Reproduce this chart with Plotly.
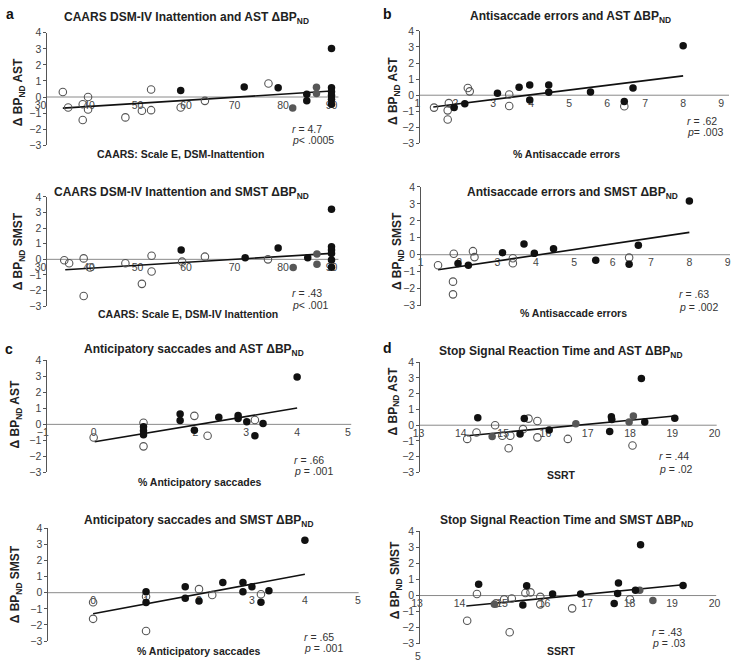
import plotly.graph_objects as go

# ---------------- data ----------------
# Panel a (top): CAARS DSM-IV Inattention vs AST dBPnd
a_ast_open_x = [34.6, 35.7, 38.7, 39.8, 38.7, 39.8, 47.5, 50.9, 52.8, 52.8, 58.9, 63.9, 77.0]
a_ast_open_y = [0.31, -0.65, -0.45, 0.0, -1.43, -0.78, -1.27, -0.86, -0.82, 0.47, -0.65, -0.24, 0.84]
a_ast_black_x = [58.9, 72.0, 79.0, 84.9, 84.9, 90, 90, 90, 90, 90, 90]
a_ast_black_y = [0.41, 0.63, 0.57, 0.17, -0.24, 3.02, 0.57, 0.33, 0.1, -0.14, -0.45]
a_ast_gray_x = [82.0, 86.9, 86.9]
a_ast_gray_y = [-0.69, 0.61, 0.22]
a_ast_fit_x = [34.6, 90]
a_ast_fit_y = [-0.69, 0.37]

# Panel a (bottom): CAARS vs SMST
a_smst_open_x = [34.9, 35.9, 38.9, 38.9, 40.2, 47.5, 50.9, 52.9, 52.9, 59.2, 63.9, 76.9]
a_smst_open_y = [-0.06, -0.25, 0.06, -2.35, -0.52, -0.25, -1.57, 0.23, -0.78, -0.15, 0.17, 0.0]
a_smst_black_x = [59.0, 72.2, 79.0, 85.1, 90, 90, 90, 90, 90, 90]
a_smst_black_y = [0.59, 0.10, 0.73, 0.10, 3.21, 0.8, 0.59, 0.38, -0.04, -0.5]
a_smst_gray_x = [82.1, 87.0, 87.0]
a_smst_gray_y = [-0.52, 0.34, -0.31]
a_smst_fit_x = [35.1, 90]
a_smst_fit_y = [-0.67, 0.38]

# Panel b (top): Antisaccade errors vs AST
b_ast_open_x = [1.44, 1.83, 1.80, 1.80, 2.33, 2.38, 3.42, 3.42, 6.45]
b_ast_open_y = [-0.77, -0.49, -0.94, -1.51, 0.45, 0.24, 0.04, -0.67, -0.69]
b_ast_black_x = [1.97, 2.25, 3.11, 3.68, 3.96, 3.96, 4.46, 4.46, 5.56, 6.45, 6.68, 8.0]
b_ast_black_y = [-0.77, -0.53, 0.12, 0.49, 0.63, -0.29, 0.63, 0.18, 0.20, -0.39, 0.45, 3.08]
b_ast_fit_x = [1.42, 8.0]
b_ast_fit_y = [-0.73, 1.2]

# Panel b (bottom): Antisaccade errors vs SMST
b_smst_open_x = [1.45, 1.86, 1.84, 1.84, 2.36, 2.40, 3.40, 3.40, 6.43]
b_smst_open_y = [-0.62, 0.06, -1.59, -2.34, 0.21, -0.14, -0.21, -0.50, -0.17]
b_smst_black_x = [1.97, 2.24, 3.13, 3.69, 3.96, 4.46, 5.56, 6.43, 6.67, 8.0]
b_smst_black_y = [-0.52, -0.62, 0.12, 0.64, 0.08, 0.35, -0.33, -0.56, 0.56, 3.17]
b_smst_fit_x = [1.45, 8.0]
b_smst_fit_y = [-0.89, 1.32]

# Panel c (top): Anticipatory saccades vs AST
c_ast_open_x = [0, 0.98, 0.98, 1.98, 2.24, 3.17]
c_ast_open_y = [-0.82, 0.1, -1.37, 0.53, -0.71, 0.27]
c_ast_black_x = [0.98, 0.98, 0.98, 1.70, 1.70, 1.98, 2.46, 2.84, 2.84, 3.01, 3.17, 3.33, 4.0]
c_ast_black_y = [-0.15, -0.4, -0.64, 0.65, 0.24, -0.37, 0.45, 0.55, 0.37, 0.16, -0.71, 0.06, 2.96]
c_ast_fit_x = [0.02, 4.0]
c_ast_fit_y = [-1.08, 1.02]

# Panel c (bottom): Anticipatory saccades vs SMST
c_smst_open_x = [0, 0, 1.0, 1.0, 2.0, 2.25, 3.17]
c_smst_open_y = [-0.59, -1.62, -0.24, -2.37, 0.22, -0.14, -0.10]
c_smst_black_x = [1.0, 1.0, 1.74, 1.74, 2.0, 2.45, 2.83, 2.83, 3.0, 3.17, 3.32, 4.0]
c_smst_black_y = [0.06, -0.61, 0.37, -0.34, -0.51, 0.63, 0.63, 0.06, 0.37, -0.59, 0.12, 3.25]
c_smst_fit_x = [0.0, 4.0]
c_smst_fit_y = [-1.30, 1.14]

# Panel d (top): SSRT vs AST
d_ast_open_x = [14.15, 14.37, 14.81, 14.98, 15.13, 15.17, 15.47, 15.60, 15.81, 15.81, 16.53, 18.06]
d_ast_open_y = [-0.87, -0.46, 0.0, -0.67, -1.46, -0.67, -0.25, 0.42, 0.27, -0.77, -0.87, -1.29]
d_ast_black_x = [14.40, 15.40, 15.50, 16.09, 17.52, 17.56, 17.57, 18.27, 18.35, 19.06]
d_ast_black_y = [0.48, -0.56, 0.42, -0.31, -0.40, 0.54, 0.37, 2.97, 0.21, 0.44]
d_ast_gray_x = [14.74, 16.72, 17.98, 18.08]
d_ast_gray_y = [-0.71, 0.10, 0.21, 0.58]
d_ast_fit_x = [14.15, 19.05]
d_ast_fit_y = [-0.67, 0.58]

# Panel d (bottom): SSRT vs SMST
d_smst_open_x = [14.18, 14.41, 14.86, 15.05, 15.23, 15.18, 15.55, 15.67, 15.90, 15.90, 16.65, 18.01]
d_smst_open_y = [-1.57, 0.10, -0.49, -0.24, -0.18, -2.29, 0.16, 0.20, -0.08, -0.55, -0.80, -0.24]
d_smst_black_x = [14.45, 15.49, 15.58, 16.19, 16.85, 17.64, 17.74, 17.72, 18.14, 18.26, 19.26]
d_smst_black_y = [0.71, -0.59, 0.61, 0.10, 0.10, -0.49, 0.78, 0.12, 0.33, 3.16, 0.63]
d_smst_gray_x = [14.82, 18.24, 18.55]
d_smst_gray_y = [-0.55, 0.33, -0.31]
d_smst_fit_x = [14.16, 19.26]
d_smst_fit_y = [-0.65, 0.67]

titles = [
    "CAARS DSM-IV Inattention and AST ΔBP<sub>ND</sub>",
    "CAARS DSM-IV Inattention and SMST ΔBP<sub>ND</sub>",
    "Antisaccade errors and AST ΔBP<sub>ND</sub>",
    "Antisaccade errors and SMST ΔBP<sub>ND</sub>",
    "Anticipatory saccades and AST ΔBP<sub>ND</sub>",
    "Anticipatory saccades and SMST ΔBP<sub>ND</sub>",
    "Stop Signal Reaction Time and AST ΔBP<sub>ND</sub>",
    "Stop Signal Reaction Time and SMST ΔBP<sub>ND</sub>",
]
x_titles = [
    "CAARS: Scale E, DSM-Inattention",
    "CAARS: Scale E, DSM-IV Inattention",
    "% Antisaccade errors",
    "% Antisaccade errors",
    "% Anticipatory saccades",
    "% Anticipatory saccades",
    "SSRT",
    "SSRT",
]
y_titles = ["Δ BP<sub>ND</sub> AST", "Δ BP<sub>ND</sub> SMST"] * 4
r_texts = ["<i>r</i> = 4.7", "<i>r</i> = .43", "<i>r</i> = .62", "<i>r</i> = .63",
           "<i>r</i> = .66", "<i>r</i> = .65", "<i>r</i> = .44", "<i>r</i> = .43"]
p_texts = ["<i>p</i>< .0005", "<i>p</i>< .001", "<i>p</i>= .003", "<i>p</i> = .002",
           "<i>p</i> = .001", "<i>p</i> = .001", "<i>p</i> = .02", "<i>p</i> = .03"]
tick_values = [
    [30, 40, 50, 60, 70, 80, 90], [30, 40, 50, 60, 70, 80, 90],
    [1, 2, 3, 4, 5, 6, 7, 8, 9], [1, 2, 3, 4, 5, 6, 7, 8, 9],
    [-1, 0, 1, 2, 3, 4, 5], [0, 1, 2, 3, 4, 5],
    [13, 14, 15, 16, 17, 18, 19, 20], [13, 14, 15, 16, 17, 18, 19, 20],
]
panel_letters = ["a", "b", "c", "d"]

# ---------------- layout geometry (pixels) ----------------
W, H = 734, 669
FONT = "Liberation Sans, Arial, Helvetica, sans-serif"

def fx(p):
    return p / W

def fy(p):
    return 1 - p / H

# xmin, (lo value, lo px), (hi value, hi px), right end px, y top px (=4), y bottom px (=-3), y-axis px
geom = [
    (30, (30, 35.0), (90, 330.0), 337.0, 27.3, 141.7, 41.0),
    (30, (30, 35.0), (90, 330.0), 337.0, 194.3, 305.7, 41.0),
    (1, (3, 494.0), (9, 725.0), 733.0, 25.3, 140.0, 419.0),
    (1, (3, 498.3), (9, 731.7), 734.0, 184.3, 305.0, 420.0),
    (-1, (-1, 37.3), (5, 346.7), 350.0, 360.7, 475.0, 41.0),
    (-1, (0, 88.3), (5, 356.7), 357.5, 531.7, 646.7, 42.0),
    (13, (13, 418.3), (20, 718.3), 720.5, 362.7, 475.0, 419.0),
    (13, (13, 416.7), (20, 718.3), 720.0, 535.0, 649.3, 419.0),
]
# annotation positions (px)
title_pos = [(183, 12), (178, 190), (572, 11), (574, 190), (191, 350), (195, 524), (562, 352), (568, 524)]
xtitle_pos = [(177, 151), (185, 314), (568, 151), (575, 313), (196, 485), (195, 657), (563, 478), (563, 657)]
ytitle_pos = [(14, 88), (13, 250), (394, 87), (397, 250), (10, 416), (11, 589), (393, 403), (395, 585)]
rp_pos = [(288, 125, 136), (288, 292, 304), (688, 117, 128), (680, 293, 306),
          (290, 462, 473), (300, 643, 654), (660, 458, 471), (653, 637, 649)]
letter_pos = [(4, 8), (387, 8), (3, 349), (387, 348)]

series = [
    (a_ast_open_x, a_ast_open_y, a_ast_gray_x, a_ast_gray_y, a_ast_black_x, a_ast_black_y, a_ast_fit_x, a_ast_fit_y),
    (a_smst_open_x, a_smst_open_y, a_smst_gray_x, a_smst_gray_y, a_smst_black_x, a_smst_black_y, a_smst_fit_x, a_smst_fit_y),
    (b_ast_open_x, b_ast_open_y, [], [], b_ast_black_x, b_ast_black_y, b_ast_fit_x, b_ast_fit_y),
    (b_smst_open_x, b_smst_open_y, [], [], b_smst_black_x, b_smst_black_y, b_smst_fit_x, b_smst_fit_y),
    (c_ast_open_x, c_ast_open_y, [], [], c_ast_black_x, c_ast_black_y, c_ast_fit_x, c_ast_fit_y),
    (c_smst_open_x, c_smst_open_y, [], [], c_smst_black_x, c_smst_black_y, c_smst_fit_x, c_smst_fit_y),
    (d_ast_open_x, d_ast_open_y, d_ast_gray_x, d_ast_gray_y, d_ast_black_x, d_ast_black_y, d_ast_fit_x, d_ast_fit_y),
    (d_smst_open_x, d_smst_open_y, d_smst_gray_x, d_smst_gray_y, d_smst_black_x, d_smst_black_y, d_smst_fit_x, d_smst_fit_y),
]

fig = go.Figure()
annotations = []
shapes = []
layout_axes = {}

for i in range(8):
    n = i + 1
    xref = "x" if n == 1 else f"x{n}"
    yref = "y" if n == 1 else f"y{n}"
    xname = "xaxis" if n == 1 else f"xaxis{n}"
    yname = "yaxis" if n == 1 else f"yaxis{n}"
    xmin, (lv, lp), (hv, hp), endp, ytop, ybot, yaxp = geom[i]
    unit = (hp - lp) / (hv - lv)
    xl = lp - (lv - xmin) * unit
    xmax = xmin + (endp - xl) / unit
    y0px = ytop + 4 * (ybot - ytop) / 7

    ox, oy, gx, gy, bx, by, tx, ty = series[i]
    fig.add_trace(go.Scatter(x=tx, y=ty, mode="lines", xaxis=xref, yaxis=yref,
                             line=dict(color="#111111", width=1.6), showlegend=False, hoverinfo="skip"))
    fig.add_trace(go.Scatter(x=ox, y=oy, mode="markers", xaxis=xref, yaxis=yref, cliponaxis=False,
                             marker=dict(symbol="circle-open", size=7.5, color="#555555", line=dict(width=1.1)),
                             showlegend=False))
    if gx:
        fig.add_trace(go.Scatter(x=gx, y=gy, mode="markers", xaxis=xref, yaxis=yref, cliponaxis=False,
                                 marker=dict(symbol="circle", size=7.5, color="#575757"), showlegend=False))
    fig.add_trace(go.Scatter(x=bx, y=by, mode="markers", xaxis=xref, yaxis=yref, cliponaxis=False,
                             marker=dict(symbol="circle", size=7.5, color="#111111"), showlegend=False))

    layout_axes[xname] = dict(
        domain=[fx(xl), fx(endp)], range=[xmin, xmax], anchor="free", position=fy(y0px),
        showline=False, ticks="", showgrid=False, zeroline=False,
        tickmode="array", tickvals=tick_values[i],
        tickfont=dict(family=FONT, size=10.5, color="#444444"), layer="below traces",
    )
    layout_axes[yname] = dict(
        domain=[fy(ybot), fy(ytop)], range=[-3, 4], anchor="free", position=fx(yaxp),
        showline=True, linecolor="#555555", linewidth=1, ticks="outside", ticklen=3,
        tickcolor="#555555", dtick=1, tick0=0, showgrid=False, zeroline=False,
        tickfont=dict(family=FONT, size=10.5, color="#444444"),
    )
    shapes.append(dict(type="line", xref="paper", yref=yref, x0=fx(yaxp), x1=fx(endp), y0=0, y1=0,
                       line=dict(color="#8a8a8a", width=1), layer="below"))

    tpx, tpy = title_pos[i]
    annotations.append(dict(x=fx(tpx), y=fy(tpy), xref="paper", yref="paper", showarrow=False,
                            text=f"<b>{titles[i]}</b>", xanchor="center", yanchor="middle",
                            font=dict(family=FONT, size=12, color="#222222")))
    xtx, xty = xtitle_pos[i]
    annotations.append(dict(x=fx(xtx), y=fy(xty), xref="paper", yref="paper", showarrow=False,
                            text=f"<b>{x_titles[i]}</b>", xanchor="center", yanchor="middle",
                            font=dict(family=FONT, size=10.5, color="#222222")))
    ytx, yty = ytitle_pos[i]
    annotations.append(dict(x=fx(ytx), y=fy(yty), xref="paper", yref="paper", showarrow=False,
                            text=f"<b>{y_titles[i]}</b>", textangle=-90, xanchor="center", yanchor="middle",
                            font=dict(family=FONT, size=12, color="#222222")))
    rx, ry1, ry2 = rp_pos[i]
    annotations.append(dict(x=fx(rx), y=fy(ry1), xref="paper", yref="paper", showarrow=False,
                            text=r_texts[i], xanchor="left", yanchor="middle",
                            font=dict(family=FONT, size=10.5, color="#333333")))
    annotations.append(dict(x=fx(rx), y=fy(ry2), xref="paper", yref="paper", showarrow=False,
                            text=p_texts[i], xanchor="left", yanchor="middle",
                            font=dict(family=FONT, size=10.5, color="#333333")))

for (lx, ly), letter in zip(letter_pos, panel_letters):
    annotations.append(dict(x=fx(lx), y=fy(ly), xref="paper", yref="paper", showarrow=False,
                            text=f"<b>{letter}</b>", xanchor="center", yanchor="middle",
                            font=dict(family=FONT, size=14, color="#111111")))

annotations.append(dict(x=fx(418), y=fy(662), xref="paper", yref="paper", showarrow=False,
                        text="5", xanchor="center", yanchor="middle",
                        font=dict(family=FONT, size=10.5, color="#444444")))

fig.update_layout(
    width=W, height=H, margin=dict(l=0, r=0, t=0, b=0),
    paper_bgcolor="white", plot_bgcolor="rgba(0,0,0,0)",
    annotations=annotations, shapes=shapes, **layout_axes,
)

fig.write_html("out.html", config={"displayModeBar": False},
               post_script="document.body.style.margin='0';document.body.style.overflow='hidden';")
